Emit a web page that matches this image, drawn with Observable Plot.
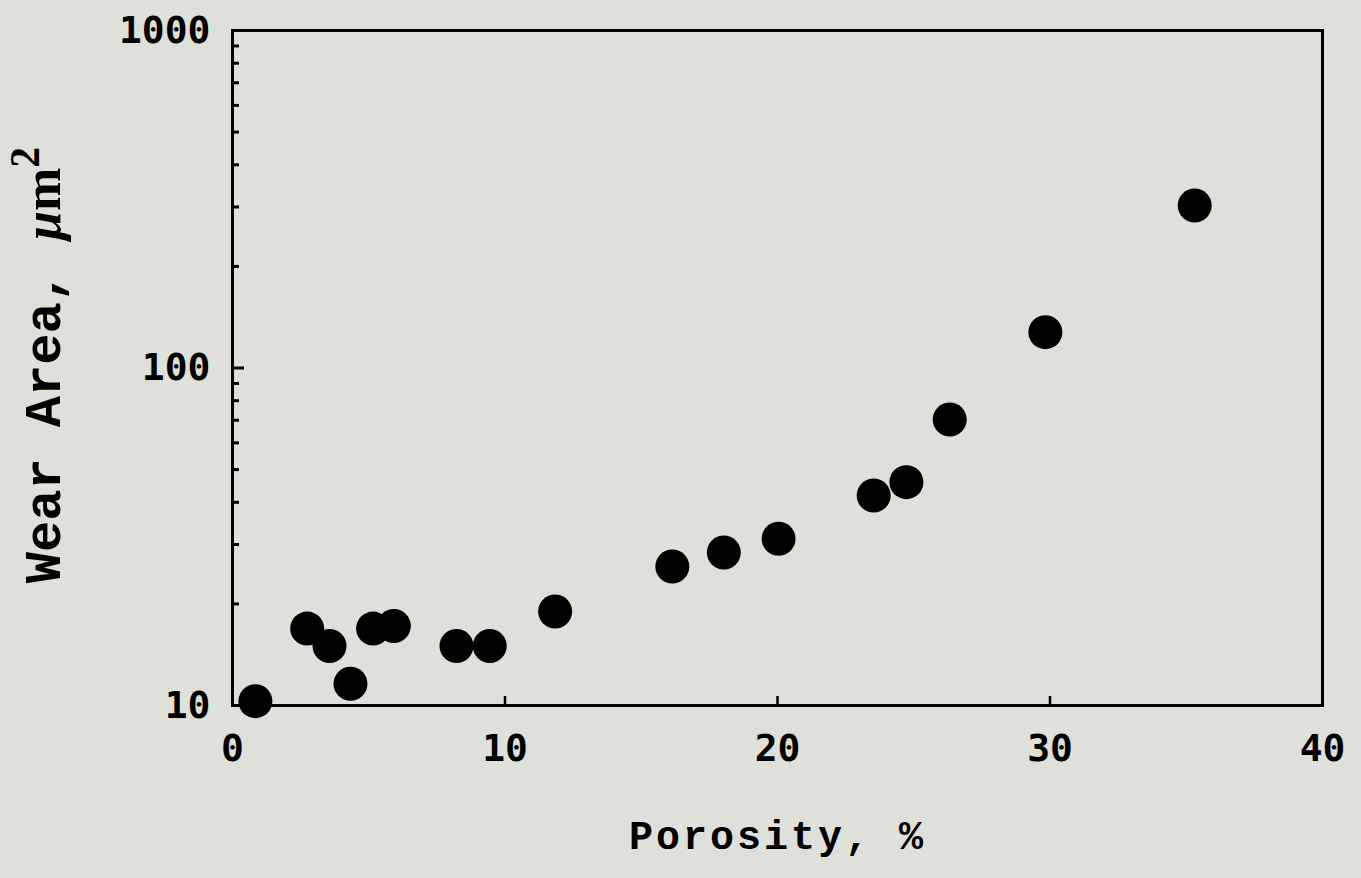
<!DOCTYPE html>
<html><head><meta charset="utf-8">
<script src="https://cdn.jsdelivr.net/npm/d3@7"></script>
<script src="https://cdn.jsdelivr.net/npm/@observablehq/plot@0.6"></script>
<style>
html,body{margin:0;padding:0;background:#dfe0da;}
#chart svg{display:block;}
</style></head><body><div id="chart"></div>
<script>
// Data
const porosity = [0.84, 2.74, 3.56, 4.33, 5.16, 5.92, 8.22, 9.44, 11.84, 16.14, 18.03, 20.04, 23.53, 24.73, 26.32, 29.83, 35.31];
const wearArea = [10.3, 16.9, 15.0, 11.6, 16.9, 17.2, 15.0, 15.0, 19.0, 25.8, 28.4, 31.2, 41.9, 45.9, 70.4, 127.7, 303];
const xTicks = [0, 10, 20, 30, 40];
const xInnerTicks = [10, 20, 30];
const yTicks = [10, 100, 1000];
const yMinorTicks = [20, 30, 40, 50, 60, 70, 80, 90, 200, 300, 400, 500, 600, 700, 800, 900];
const xLabel = "Porosity, %";
const yLabel = "Wear Area, μm2";

const W = 1361, H = 878, mL = 232, mR = 39, mT = 30, mB = 173;
const plotW = W - mL - mR, plotH = H - mT - mB;
const data = porosity.map((p, i) => ({porosity: p, wear: wearArea[i]}));

const chart = Plot.plot({
  width: W, height: H,
  marginLeft: mL, marginRight: mR, marginTop: mT, marginBottom: mB,
  style: {background: "transparent", fontFamily: "'DejaVu Sans Mono', monospace", color: "#000", overflow: "visible"},
  x: {domain: [0, 40]},
  y: {type: "log", domain: [10, 1000]},
  marks: [
    Plot.axisX(xTicks, {tickSize: 0, tickPadding: 29, fontSize: 38, fontWeight: "bold", label: null, tickFormat: d => String(d)}),
    Plot.axisY(yTicks, {tickSize: 0, tickPadding: 22, fontSize: 38, fontWeight: "bold", label: null, tickFormat: d => String(d)}),
    Plot.tickX(xInnerTicks, {x: d => d, insetTop: plotH - 9, stroke: "#000", strokeWidth: 2.5}),
    Plot.tickY(yTicks, {y: d => d, insetRight: plotW - 12, stroke: "#000", strokeWidth: 3}),
    Plot.tickY(yMinorTicks, {y: d => d, insetRight: plotW - 7, stroke: "#000", strokeWidth: 3}),
    Plot.frame({stroke: "#000", strokeWidth: 3}),
    Plot.dot(data, {x: "porosity", y: "wear", r: 17, fill: "#000"}),
    Plot.text([xLabel], {frameAnchor: "bottom", lineAnchor: "middle", textAnchor: "middle", dy: 131, fontSize: 40, fontFamily: "'Liberation Mono', monospace", fontWeight: "bold"}),
    Plot.text([yLabel], {frameAnchor: "left", lineAnchor: "middle", textAnchor: "middle", dx: -189, dy: -3, rotate: -90, fontSize: 52, fontFamily: "'Liberation Mono', monospace", fontWeight: "bold"})
  ]
});
document.getElementById("chart").appendChild(chart);

const texts = d3.select(chart).selectAll("text");
// Wider letter spacing on the x label, like the typewriter face of the reference
texts.filter(function() { return this.textContent === xLabel; }).attr("letter-spacing", 3);
// Style the y label: italic mu, superscript 2
texts.filter(function() { return this.textContent === yLabel; }).each(function() {
  const t = d3.select(this);
  t.text(null);
  t.append("tspan").text("Wear Area, ");
  t.append("tspan").attr("font-style", "italic").attr("font-family", "'Liberation Serif', serif").text("μ");
  t.append("tspan").attr("font-family", "'Liberation Serif', serif").text("m");
  t.append("tspan").attr("font-family", "'Liberation Serif', serif").attr("font-size", "0.8em").attr("dy", "-0.5em").text("2");
});
</script>
</body></html>
